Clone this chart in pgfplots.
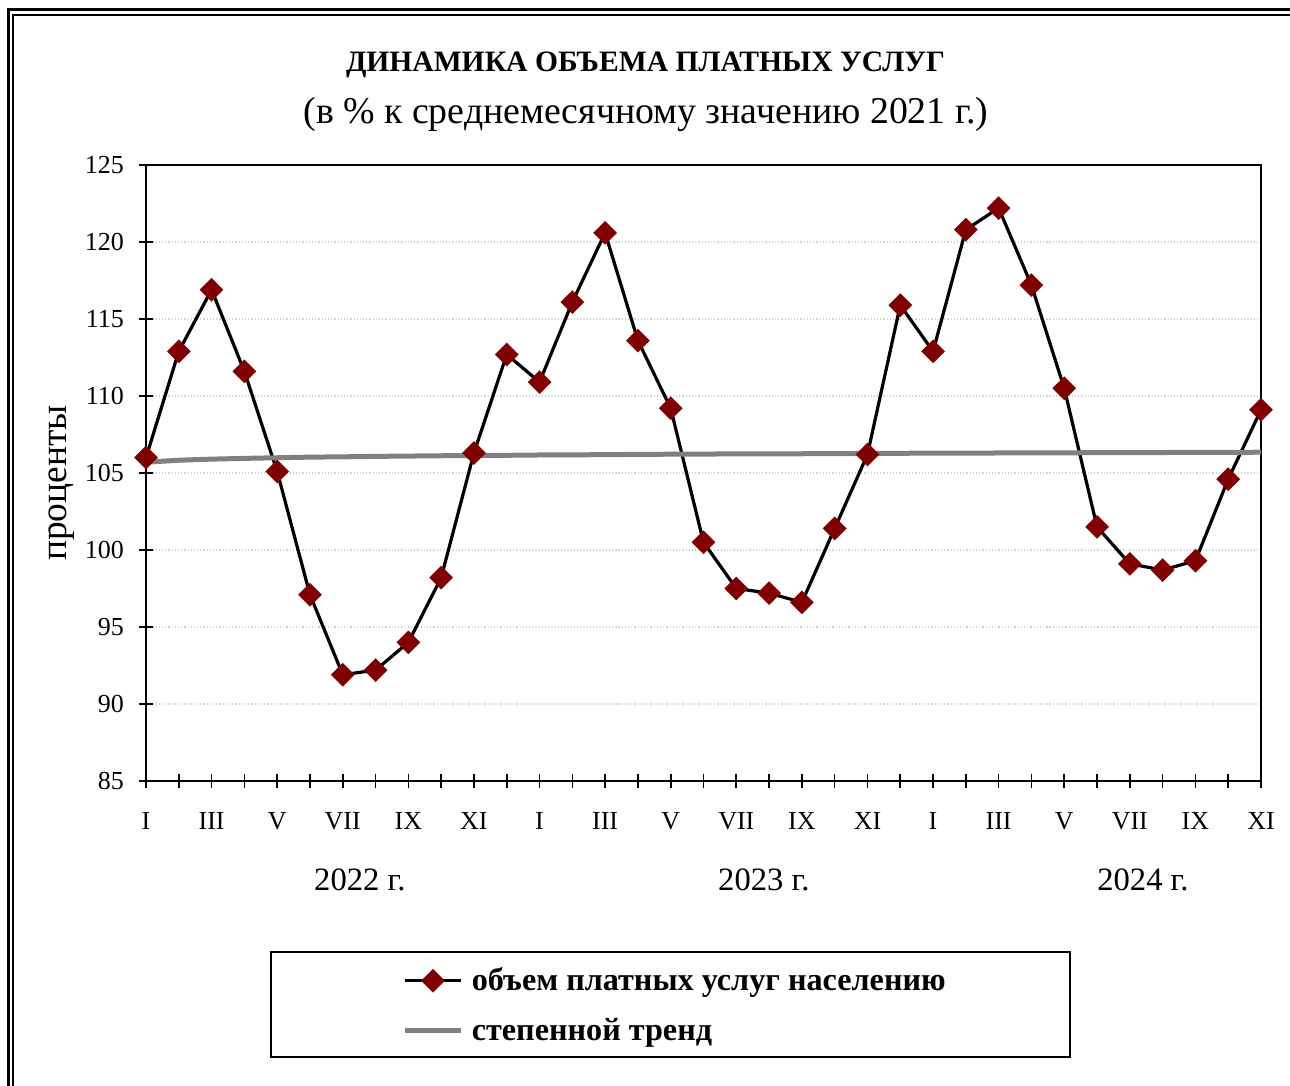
\documentclass[border=0pt]{standalone}
\usepackage{fontspec}
\setmainfont{Liberation Serif}
\usepackage{pgfplots}
\pgfplotsset{compat=1.18}
\definecolor{markred}{HTML}{800000}
\definecolor{trendgray}{HTML}{808080}

\begin{document}
\begin{tikzpicture}
\path[use as bounding box] (0,0) rectangle (645bp,543bp);
% outer double frame
\draw[line width=1.5bp] (4bp,0) -- (4bp,538bp) -- (645bp,538bp);
\draw[line width=1bp] (6.5bp,0) -- (6.5bp,535.5bp) -- (645bp,535.5bp);
% titles
\node[font=\bfseries\fontsize{14.8bp}{17bp}\selectfont] at (322.75bp,510.5bp) {ДИНАМИКА ОБЪЕМА ПЛАТНЫХ УСЛУГ};
\node[font=\fontsize{18.9bp}{21bp}\selectfont] at (323bp,486bp) {(в \% к среднемесячному значению 2021 г.)};
% y label
\node[rotate=90, font=\fontsize{18.7bp}{21bp}\selectfont] at (31bp,301.5bp) {проценты};
% legend box
\draw[line width=1bp] (135.5bp,14.5bp) rectangle (535bp,67bp);

\begin{axis}[
  at={(73bp,152.5bp)}, anchor=south west,
  scale only axis, width=557.5bp, height=308bp,
  xmin=0, xmax=34, ymin=85, ymax=125,
  ytick={85,90,...,125},
  xtick={0,...,34},
  xticklabels={I,,III,,V,,VII,,IX,,XI,,I,,III,,V,,VII,,IX,,XI,,I,,III,,V,,VII,,IX,,XI},
  tick align=center,
  xtick pos=bottom, ytick pos=left,
  major tick length=7bp,
  ymajorgrids,
  major grid style={gray!35, line width=0.6bp, densely dotted},
  axis line style={line width=1bp, black},
  tick style={line width=0.8bp, black},
  ticklabel style={font=\fontsize{13bp}{15bp}\selectfont},
  /pgf/number format/assume math mode=true,
  yticklabel style={xshift=-4bp},
  xticklabel style={yshift=-8.5bp},
  clip=false,
  legend style={draw=none, fill=none, at={(0.224,-0.2896)}, anchor=north west,
    font=\bfseries\fontsize{16.1bp}{18bp}\selectfont, row sep=8.3bp,
    /tikz/every odd column/.append style={column sep=2bp}},
  legend cell align=left,
  legend image code/.code={\draw[mark repeat=2,mark phase=2] plot coordinates {(0cm,0cm) (0.5cm,0cm) (1cm,0cm)};},
]
\addplot[black, line width=1.6bp, mark=square*, mark size=3.4bp,
  mark options={rotate=45, fill=markred, draw=markred, solid}]
coordinates {
(0,106.0) (1,112.9) (2,116.9) (3,111.6) (4,105.1) (5,97.1) (6,91.9) (7,92.2) (8,94.0) (9,98.2) (10,106.3) (11,112.7)
(12,110.9) (13,116.1) (14,120.6) (15,113.6) (16,109.2) (17,100.5) (18,97.5) (19,97.2) (20,96.6) (21,101.4) (22,106.2) (23,115.9)
(24,112.9) (25,120.8) (26,122.2) (27,117.2) (28,110.5) (29,101.5) (30,99.1) (31,98.7) (32,99.3) (33,104.6) (34,109.1)
};
\addlegendentry{объем платных услуг населению}
\addplot[trendgray, line width=2.5bp, no markers]
coordinates {
(0,105.70) (1,105.83) (2,105.90) (3,105.95) (4,105.99) (5,106.03) (6,106.05) (7,106.08) (8,106.10) (9,106.12)
(10,106.14) (11,106.15) (12,106.17) (13,106.18) (14,106.19) (15,106.21) (16,106.22) (17,106.23) (18,106.24) (19,106.25)
(20,106.25) (21,106.26) (22,106.27) (23,106.28) (24,106.29) (25,106.29) (26,106.30) (27,106.31) (28,106.31) (29,106.32)
(30,106.32) (31,106.33) (32,106.34) (33,106.34) (34,106.35)
};
\addlegendentry{степенной тренд}
\node[font=\fontsize{16.3bp}{18bp}\selectfont] at (axis cs:6.52,85) [yshift=-49.5bp] {2022 г.};
\node[font=\fontsize{16.3bp}{18bp}\selectfont] at (axis cs:18.84,85) [yshift=-49.5bp] {2023 г.};
\node[font=\fontsize{16.3bp}{18bp}\selectfont] at (axis cs:30.4,85) [yshift=-49.5bp] {2024 г.};
\end{axis}
\end{tikzpicture}
\end{document}
